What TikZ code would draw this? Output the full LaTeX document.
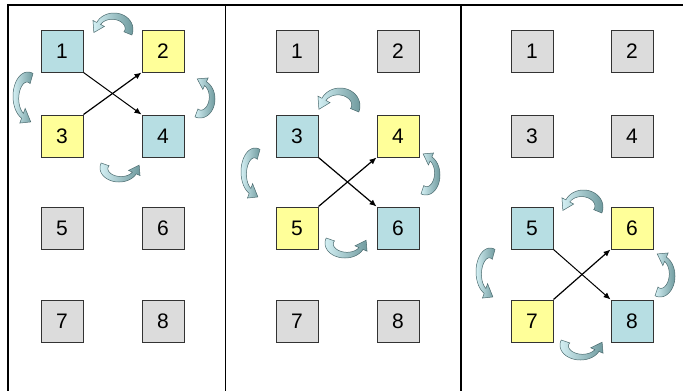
\documentclass[tikz,border=0pt]{standalone}
\usepackage{fontspec}
\setmainfont{Liberation Sans}
\usetikzlibrary{arrows.meta}
\definecolor{boxblue}{HTML}{B7DEE3}
\definecolor{boxyellow}{HTML}{FFFF99}
\definecolor{boxgray}{HTML}{DCDCDC}
\definecolor{boxline}{HTML}{333333}
\definecolor{arrdark}{HTML}{6F9A9E}
\definecolor{arrlight}{HTML}{D3EFF3}
\definecolor{arroutline}{HTML}{4A6A6E}
\tikzset{
  sq/.style={draw=boxline, line width=1pt, minimum size=42pt, inner sep=0pt, font=\fontsize{21}{21}\selectfont},
  bluebox/.style={sq, fill=boxblue},
  yellowbox/.style={sq, fill=boxyellow},
  graybox/.style={sq, fill=boxgray},
  swaparrow/.style={-{Latex[length=7pt,width=6pt]}, line width=1.2pt},
  carrow/.style={left color=arrlight, right color=arrdark, draw=arroutline, line width=0.5pt},
  frameline/.style={line width=1.5pt, black}
}
\newcommand\curvarrow[1]{%
  \begin{scope}[#1]
    \begin{scope}[xscale=1/37.9, yscale=-1/18.8, shift={(19.9,-14)}]
      \shade[carrow] plot[domain=-20:155, samples=36] ({18*cos(\x)},{14*sin(\x)})
        -- (-19.94,7.61) -- (-19.1,-2.7) -- (-9.06,2.54)
        -- plot[domain=155:-20, samples=36] ({(14-4*(155-\x)/175)*cos(\x)},{(10-4*(155-\x)/175)*sin(\x)})
        -- cycle;
    \end{scope}
  \end{scope}}
\begin{document}
\begin{tikzpicture}[x=1pt, y=-1pt]
\useasboundingbox (0,0) rectangle (683,391);
\fill[white] (0,0) rectangle (683,391);
% frame
\draw[frameline] (8,391) -- (8,5) -- (683,5);
\draw[frameline] (225.5,5) -- (225.5,391);
\draw[frameline] (461,5) -- (461,391);

% ---------- panel 1 ----------
\node[bluebox]   (a1) at (62,51)  {1};
\node[yellowbox] (a2) at (163,51) {2};
\node[yellowbox] (a3) at (62,136) {3};
\node[bluebox]   (a4) at (163,136) {4};
\node[graybox]   (a5) at (62,228) {5};
\node[graybox]   (a6) at (163,228) {6};
\node[graybox]   (a7) at (62,321) {7};
\node[graybox]   (a8) at (163,321) {8};
\draw[swaparrow, line width=1pt] (a1.south east) -- (a4.north west);
\draw[swaparrow] (a3.north east) -- (a2.south west);
\curvarrow{shift={(93,13)}, xscale=40, yscale=22}
\curvarrow{shift={(13,123)}, xscale=20, yscale=51, rotate=90}
\curvarrow{shift={(215,78)}, xscale=20, yscale=40, rotate=-90}
\curvarrow{shift={(140,182)}, xscale=-40, yscale=-19}

% ---------- panel 2 ----------
\node[graybox]   (b1) at (297,51)  {1};
\node[graybox]   (b2) at (398,51)  {2};
\node[bluebox]   (b3) at (297,136) {3};
\node[yellowbox] (b4) at (398,136) {4};
\node[yellowbox] (b5) at (297,228) {5};
\node[bluebox]   (b6) at (398,228) {6};
\node[graybox]   (b7) at (297,321) {7};
\node[graybox]   (b8) at (398,321) {8};
\draw[swaparrow] (b3.south east) -- (b6.north west);
\draw[swaparrow] (b5.north east) -- (b4.south west);
\curvarrow{shift={(318,88)}, xscale=42, yscale=24}
\curvarrow{shift={(241,198)}, xscale=19, yscale=50, rotate=90}
\curvarrow{shift={(440,153)}, xscale=19, yscale=42, rotate=-90}
\curvarrow{shift={(367,258)}, xscale=-42, yscale=-20}

% ---------- panel 3 ----------
\node[graybox]   (c1) at (532,51)  {1};
\node[graybox]   (c2) at (632,51)  {2};
\node[graybox]   (c3) at (532,136) {3};
\node[graybox]   (c4) at (632,136) {4};
\node[bluebox]   (c5) at (532,228) {5};
\node[yellowbox] (c6) at (632,228) {6};
\node[yellowbox] (c7) at (532,321) {7};
\node[bluebox]   (c8) at (632,321) {8};
\draw[swaparrow, line width=1pt] (c5.south east) -- (c8.north west);
\draw[swaparrow] (c7.north east) -- (c6.south west);
\curvarrow{shift={(562,190)}, xscale=41, yscale=23}
\curvarrow{shift={(476,298)}, xscale=19, yscale=50, rotate=90}
\curvarrow{shift={(675,253)}, xscale=20, yscale=44, rotate=-90}
\curvarrow{shift={(603,360)}, xscale=-43, yscale=-20}
\end{tikzpicture}
\end{document}
